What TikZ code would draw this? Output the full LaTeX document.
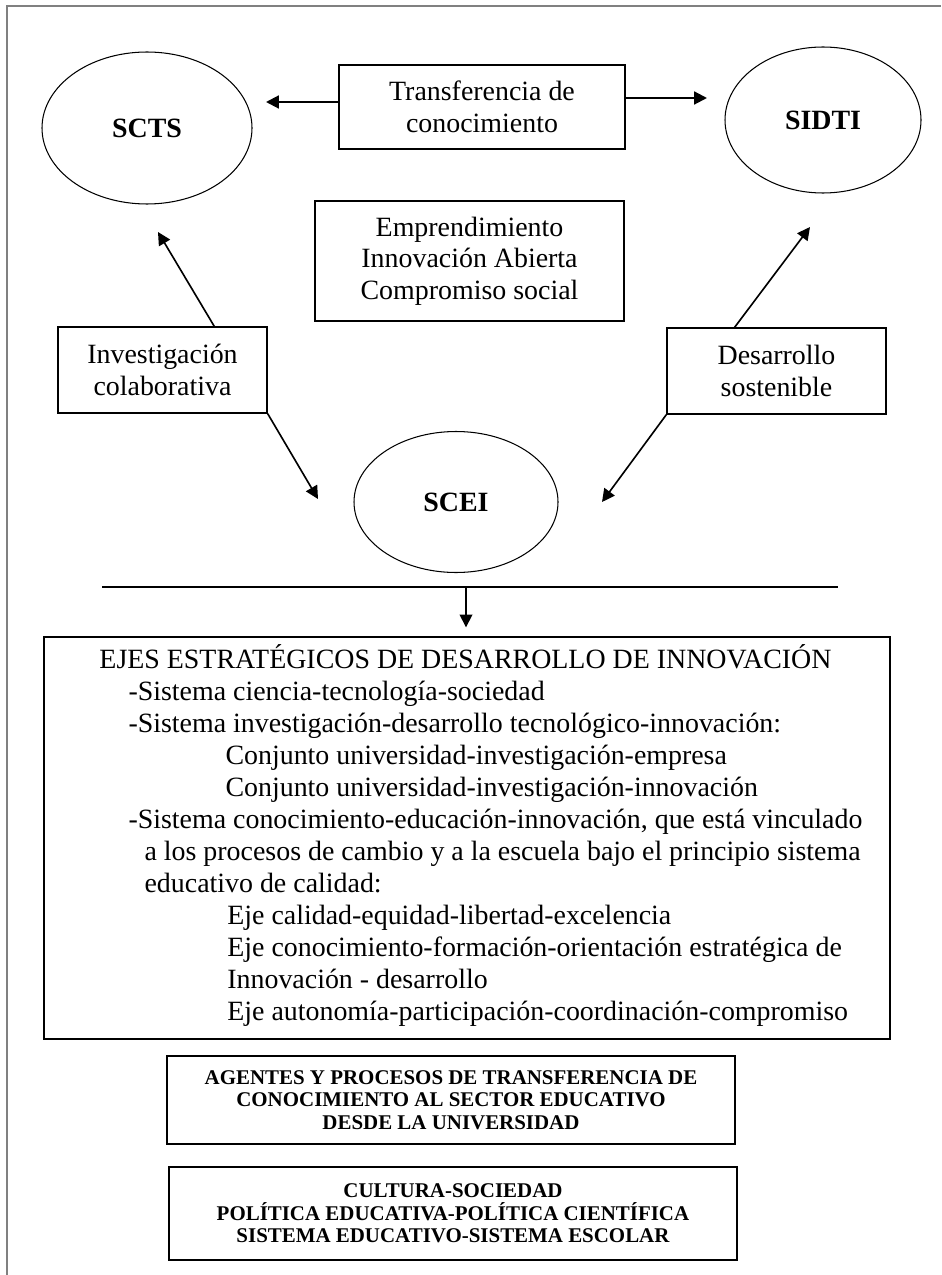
\documentclass[tikz,border=0pt]{standalone}
\usepackage{fontspec}
\setmainfont{Liberation Serif}
\usetikzlibrary{arrows.meta,shapes.geometric,calc}
\definecolor{framegray}{RGB}{128,128,128}
\newcommand{\upx}{0.43pt}

\begin{document}
\begin{tikzpicture}[x=0.43pt, y=-0.43pt,
  sysnode/.style={ellipse, draw, line width=0.45pt, inner sep=0pt, font=\fontsize{12}{14}\selectfont\bfseries},
  txtbox/.style={draw, line width=0.6pt, align=center, inner sep=0pt, font=\fontsize{12}{13.5}\selectfont},
  capbox/.style={draw, line width=0.6pt, align=center, inner sep=0pt, font=\fontsize{9}{9.7}\selectfont\bfseries},
  flow/.style={-{Triangle[length=5.5pt,width=5.5pt]}, line width=0.7pt}]
  \useasboundingbox (0,0) rectangle (941,1275);
  % page frame, top and left only
  \draw[framegray, line width=0.5pt] (7,1275) -- (7,6) -- (941,6);
  % the three systems
  \node[sysnode, minimum width=210*\upx, minimum height=152*\upx] (scts) at (147,128) {SCTS};
  \node[sysnode, minimum width=196*\upx, minimum height=146*\upx] (sidti) at (823,120) {SIDTI};
  \node[sysnode, minimum width=204*\upx, minimum height=141*\upx] (scei) at (456,502) {SCEI};
  % linking boxes
  \node[txtbox, minimum width=286*\upx, minimum height=84*\upx] (transf) at (482,107) {Transferencia de\\conocimiento};
  \node[txtbox, minimum width=309*\upx, minimum height=120*\upx] (empr) at (469.5,261) {Emprendimiento\\Innovación Abierta\\Compromiso social};
  \node[txtbox, minimum width=209*\upx, minimum height=86*\upx] (invcol) at (162.5,370) {Investigación\\colaborativa};
  \node[txtbox, minimum width=219*\upx, minimum height=86*\upx] (desost) at (776.5,371) {Desarrollo\\sostenible};
  % arrow ends
  \coordinate (tipscts) at (266,102);
  \coordinate (tipsidti) at (707,98);
  \coordinate (tipupl) at (158,232);
  \coordinate (tipupr) at (810,227);
  \coordinate (tipdnl) at (318,499);
  \coordinate (tipdnr) at (602,502);
  \draw[flow, line width=0.9pt] (transf.west |- tipscts) -- (tipscts);
  \draw[flow, line width=0.9pt] (transf.east |- tipsidti) -- (tipsidti);
  \draw[flow] ($(invcol.north west)!0.746!(invcol.north east)$) -- (tipupl);
  \draw[flow] ($(desost.north west)!0.31!(desost.north east)$) -- (tipupr);
  \draw[flow] (invcol.south east) -- (tipdnl);
  \draw[flow] (desost.south west) -- (tipdnr);
  % separator and strategic axes
  \coordinate (sepl) at (102,587);
  \coordinate (sepr) at (838,587);
  \coordinate (sepmid) at (466,587);
  \draw[line width=0.7pt] (sepl) -- (sepr);
  \node[draw, line width=0.6pt, inner sep=0pt, minimum width=846*\upx, minimum height=402*\upx] (ejes) at (467,838) {};
  \draw[flow] (sepmid) -- ($(sepmid |- ejes.north)+(0,-9)$);
  \node[anchor=base west, align=left, inner sep=0pt, font=\fontsize{12}{13.76}\selectfont] (ejestxt) at (99,1020)
    {EJES ESTRATÉGICOS DE DESARROLLO DE INNOVACIÓN\\
     \hspace*{12.5pt}-Sistema ciencia-tecnología-sociedad\\
     \hspace*{12.5pt}-Sistema investigación-desarrollo tecnológico-innovación:\\
     \hspace*{54.2pt}Conjunto universidad-investigación-empresa\\
     \hspace*{54.2pt}Conjunto universidad-investigación-innovación\\
     \hspace*{12.5pt}-Sistema conocimiento-educación-innovación, que está vinculado\\
     \hspace*{19.4pt}a los procesos de cambio y a la escuela bajo el principio sistema\\
     \hspace*{19.4pt}educativo de calidad:\\
     \hspace*{55pt}Eje calidad-equidad-libertad-excelencia\\
     \hspace*{55pt}Eje conocimiento-formación-orientación estratégica de\\
     \hspace*{55pt}Innovación - desarrollo\\
     \hspace*{55pt}Eje autonomía-participación-coordinación-compromiso};
  % agents and context
  \node[capbox, minimum width=568*\upx, minimum height=88*\upx] (agentes) at (451,1100)
    {AGENTES Y PROCESOS DE TRANSFERENCIA DE\\CONOCIMIENTO AL SECTOR EDUCATIVO\\DESDE LA UNIVERSIDAD};
  \node[capbox, minimum width=568*\upx, minimum height=93*\upx] (cultura) at (453,1213.5)
    {CULTURA-SOCIEDAD\\POLÍTICA EDUCATIVA-POLÍTICA CIENTÍFICA\\SISTEMA EDUCATIVO-SISTEMA ESCOLAR};
\end{tikzpicture}
\end{document}
